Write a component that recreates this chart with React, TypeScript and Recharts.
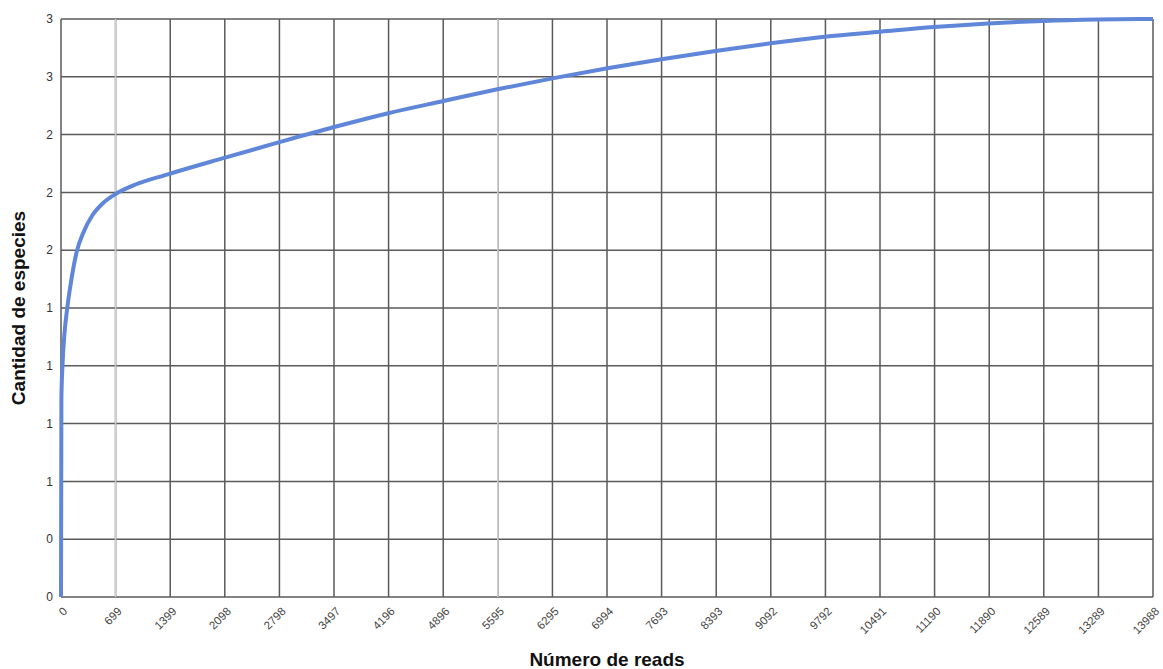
import React from "react";
import {
  LineChart,
  Line,
  XAxis,
  YAxis,
  CartesianGrid,
  ReferenceLine,
} from "recharts";

// Number of reads (x) and species amount (y)
const reads = [
  0, 5, 20, 45, 80, 130, 200, 290, 400, 540, 700, 920, 1380, 2090, 2808, 3487,
  4193, 4898, 5590, 6295, 7000, 7693, 8385, 9090, 9782, 10500, 11180, 11873,
  12578, 13283, 13988,
];
const species = [
  0, 1.03, 1.21, 1.37, 1.5, 1.64, 1.79, 1.895, 1.98, 2.045, 2.092, 2.135,
  2.195, 2.279, 2.362, 2.438, 2.511, 2.574, 2.635, 2.692, 2.744, 2.791, 2.834,
  2.874, 2.908, 2.934, 2.958, 2.977, 2.99, 2.997, 3.0,
];

const xTicks = [
  0, 699, 1399, 2098, 2798, 3497, 4196, 4896, 5595, 6295, 6994, 7693, 8393,
  9092, 9792, 10491, 11190, 11890, 12589, 13289, 13988,
];
const xTickLabels = [
  "0", "699", "1399", "2098", "2798", "3497", "4196", "4896", "5595", "6295",
  "6994", "7693", "8393", "9092", "9792", "10491", "11190", "11890", "12589",
  "13289", "13988",
];
const yTicks = [0, 0.3, 0.6, 0.9, 1.2, 1.5, 1.8, 2.1, 2.4, 2.7, 3.0];
const yTickLabels = ["0", "0", "1", "1", "1", "1", "2", "2", "2", "3", "3"];
const lightGridX = [699, 5595];

const data = reads.map((r, i) => ({ reads: r, especies: species[i] }));

const FONT = "'Liberation Sans', Arial, sans-serif";

const XTick = (props: any) => {
  const { x, y, payload, index } = props;
  return (
    <g transform={`translate(${x},${y})`}>
      <text
        x={0}
        y={0}
        dy={10}
        textAnchor="end"
        transform="rotate(-45)"
        fontFamily={FONT}
        fontSize={11.5}
        fill="#444"
      >
        {xTickLabels[index] ?? String(payload.value)}
      </text>
    </g>
  );
};

export default function App() {
  return (
    <div style={{ position: "absolute", left: 0, top: 0, width: 1163, height: 669, background: "#fff" }}>
      <LineChart
        width={1163}
        height={669}
        data={data}
        margin={{ top: 19, right: 10, bottom: 0, left: 0 }}
      >
        <CartesianGrid stroke="#5a5a5a" strokeWidth={1.5} />
        {lightGridX.map((v) => (
          <ReferenceLine key={v} x={v} stroke="#cfcfcf" strokeWidth={1.5} />
        ))}
        <XAxis
          dataKey="reads"
          type="number"
          domain={[0, 13988]}
          ticks={xTicks}
          interval={0}
          tickLine={false}
          axisLine={false}
          tick={<XTick />}
          height={72}
          label={{
            value: "Número de reads",
            position: "insideBottom",
            offset: 3,
            style: { fontFamily: FONT, fontSize: 19, fontWeight: "bold", fill: "#111" },
          }}
        />
        <YAxis
          type="number"
          domain={[0, 3]}
          ticks={yTicks}
          interval={0}
          width={61}
          tickLine={false}
          axisLine={false}
          tickFormatter={(v: number, i: number) => yTickLabels[i] ?? String(v)}
          tick={{ fontFamily: FONT, fontSize: 12, fill: "#333" }}
          label={{
            value: "Cantidad de especies",
            angle: -90,
            position: "insideLeft",
            offset: 18,
            style: { fontFamily: FONT, fontSize: 19, fontWeight: "bold", fill: "#111", textAnchor: "middle" },
          }}
        />
        <Line
          type="monotone"
          dataKey="especies"
          stroke="#5f86d8"
          strokeWidth={4}
          dot={false}
          isAnimationActive={false}
        />
      </LineChart>
    </div>
  );
}
